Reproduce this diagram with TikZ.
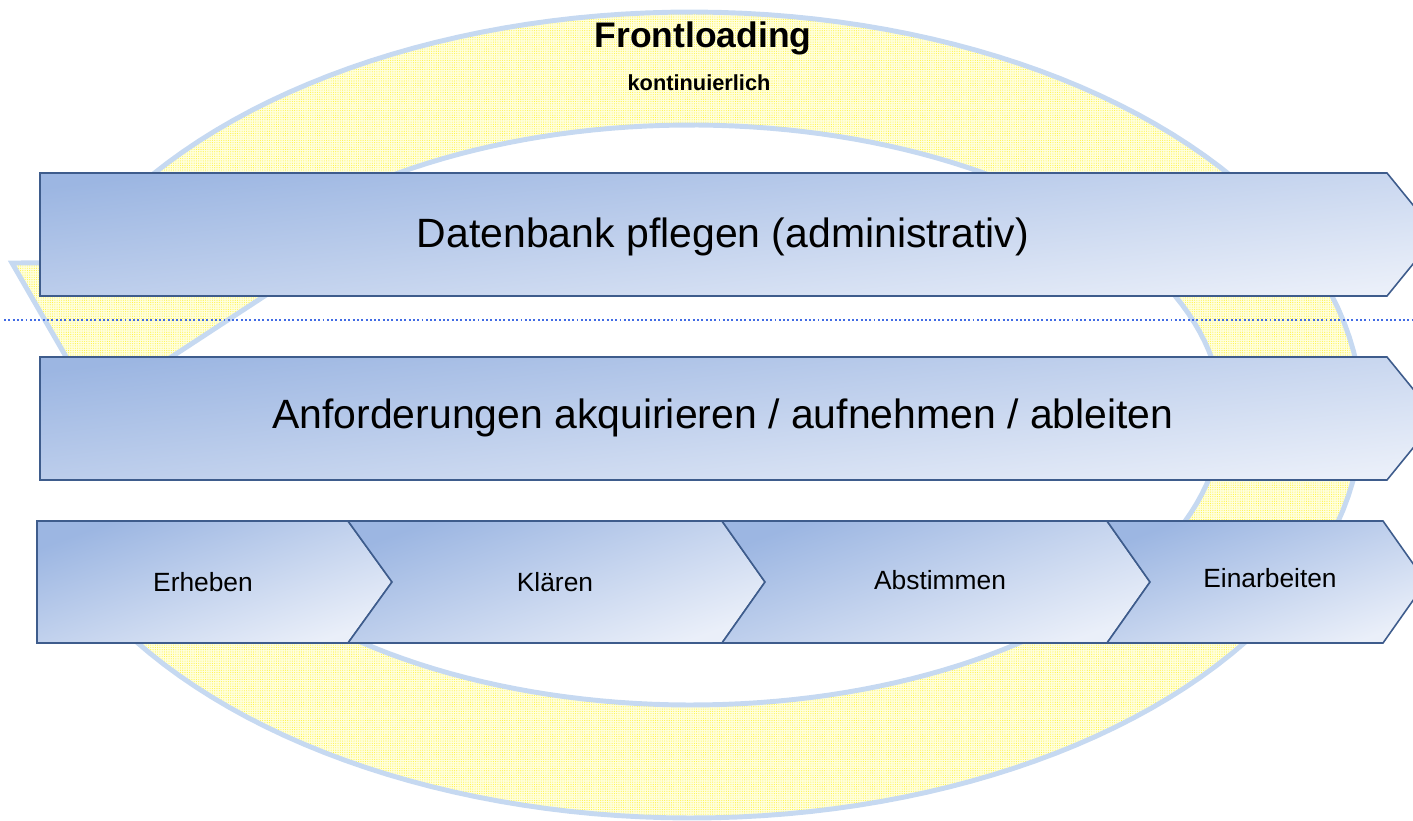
\documentclass[tikz,border=0pt]{standalone}
\usepackage{fontspec}
\setmainfont{Liberation Sans}
\usetikzlibrary{calc, positioning, patterns.meta}

\definecolor{ringfill}{RGB}{255,255,222}
\definecolor{ringdot}{RGB}{255,244,70}
\definecolor{ringedge}{RGB}{198,217,241}
\definecolor{bardark}{RGB}{156,182,226}
\definecolor{barlight}{RGB}{234,239,249}
\definecolor{baredge}{RGB}{62,92,140}
\definecolor{sepblue}{RGB}{66,108,228}

\tikzset{
    ringband/.style = {preaction={fill=ringfill}, pattern={Dots[distance=1.3pt, radius=0.32pt]},
      pattern color=ringdot, draw=ringedge, line width=2.8pt, line join=miter},
    barshape/.style = {top color=bardark, bottom color=barlight, shading angle=20,
      draw=baredge, line width=0.9pt, line join=miter},
    longbar/.style  = {barshape, shading angle=7},
    bartext/.style  = {draw=none, fill=none, rectangle, inner sep=0em,
      font=\fontsize{23.3}{27}\selectfont},
    steptext/.style = {draw=none, fill=none, rectangle, inner sep=0em,
      font=\fontsize{15}{18}\selectfont},
    titletext/.style = {draw=none, fill=none, rectangle, inner sep=0em,
      font=\fontsize{20.2}{24}\selectfont\bfseries},
    subtext/.style  = {draw=none, fill=none, rectangle, inner sep=0em,
      font=\fontsize{12.4}{15}\selectfont\bfseries},
    seprule/.style  = {sepblue, line width=1.1pt, dash pattern=on 1.1pt off 1.35pt}
}

\begin{document}
\begin{tikzpicture}[x=0.02cm, y=-0.02cm]
    \useasboundingbox (0,0) rectangle (1413,821);
    \clip (0,0) rectangle (1413,821);

    % ring, running round to the arrow head on the left
    \draw [ringband] (12,263)
        -- plot [domain=-157.8:150, samples=150] ({691+671*cos(\x)}, {415+403*sin(\x)})
        -- plot [domain=136.1:-148.4, samples=150] ({691+531*cos(\x)}, {415+290*sin(\x)})
        -- (315,263) -- (95,407) -- cycle;

    \node [name=frontloading, titletext] at (703,38) {Frontloading};
    \node [name=kontinuierlich, subtext] at (699,83) {kontinuierlich};

    % dotted separator
    \coordinate (sepL) at (4,320);
    \coordinate (sepR) at (1413,320);
    \draw [seprule] (sepL) -- (sepR);

    % long bars
    \draw [longbar] (40,173) -- (1387,173) -- (1437,234.5) -- (1387,296) -- (40,296) -- cycle;
    \node [name=pflegen, bartext] at (723,237) {Datenbank pflegen (administrativ)};

    \draw [longbar] (40,357) -- (1387,357) -- (1437,418.5) -- (1387,480) -- (40,480) -- cycle;
    \node [name=anforderungen, bartext] at (723,418) {Anforderungen akquirieren / aufnehmen / ableiten};

    % step chevrons
    \draw [barshape] (37,521) -- (348,521) -- (392,582) -- (348,643) -- (37,643) -- cycle;
    \node [name=erheben, steptext] at (203,582) {Erheben};

    \draw [barshape] (348,521) -- (722,521) -- (765,582) -- (722,643) -- (348,643) -- (392,582) -- cycle;
    \node [name=klaeren, steptext] at (555,582) {Klären};

    \draw [barshape] (722,521) -- (1107,521) -- (1150,582) -- (1107,643) -- (722,643) -- (765,582) -- cycle;
    \node [name=abstimmen, steptext] at (940,580) {Abstimmen};

    \draw [barshape] (1107,521) -- (1383,521) -- (1426,582) -- (1383,643) -- (1107,643) -- (1150,582) -- cycle;
    \node [name=einarbeiten, steptext] at (1270,578) {Einarbeiten};
\end{tikzpicture}
\end{document}
